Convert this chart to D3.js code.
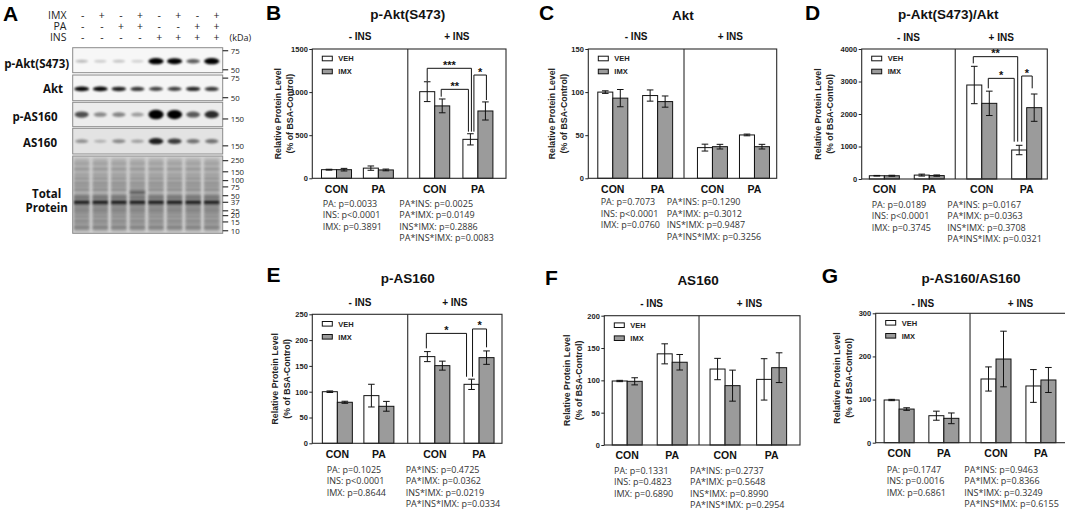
<!DOCTYPE html>
<html lang="en">
<head>
<meta charset="UTF-8">
<title>p-Akt / p-AS160 western blot and quantification</title>
<script src="https://d3js.org/d3.v7.min.js"></script>
<style>
    body { margin: 0; background: #fff; }
    svg { display: block; }
    .arial { font-family: "Liberation Sans", Arial, sans-serif; }
    .segoe { font-family: "Open Sans", sans-serif; }
</style>
</head>
<body>
<div id="fig"></div>
<script>
// ---------- panel A: blot data ----------
const imxSigns = ["-", "+", "-", "+", "-", "+", "-", "+"];
const paSigns  = ["-", "-", "+", "+", "-", "-", "+", "+"];
const insSigns = ["-", "-", "-", "-", "+", "+", "+", "+"];
const signRows = ["IMX", "PA", "INS"];

// band darkness per lane (0..1)
const pAktBands   = [0.14, 0.07, 0.1, 0.05, 0.95, 0.92, 0.5, 0.97];
const aktBands    = [0.85, 0.85, 0.75, 0.65, 0.6, 0.62, 0.72, 0.65];
const pAs160Bands = [0.55, 0.3, 0.32, 0.22, 1.0, 0.95, 0.5, 0.7];
const as160Bands  = [0.25, 0.12, 0.28, 0.18, 0.75, 0.62, 0.38, 0.38];

const pAktMarkers   = [75, 50];
const aktMarkers    = [75, 50];
const pAs160Markers = [150];
const as160Markers  = [150];
const totalMarkers  = [250, 150, 100, 75, 50, 37, 25, 20, 15, 10];

// total protein stain: band sizes (kDa) and darkness
const totalBandKda   = [220, 170, 130, 110, 90, 78, 66, 50, 45, 37, 32, 28, 25, 22, 19, 16, 14, 12, 11];
const totalBandLevel = [0.14, 0.2, 0.14, 0.22, 0.25, 0.22, 0.28, 0.32, 0.42, 0.95, 0.32, 0.3, 0.32, 0.27, 0.27, 0.3, 0.24, 0.32, 0.22];
const totalExtraLane = [3];
const totalExtraKda  = [58];
const totalExtraLevel = [0.55];

// ---------- panels B-G: bar data [VEH, IMX] per group ----------
const groups = ["CON", "PA", "CON", "PA"];
const seriesNames = ["VEH", "IMX"];
const insLabels = ["- INS", "+ INS"];

const pAktMean = [[100, 100], [118, 97], [1005, 840], [452, 781]];
const pAktErr  = [[5, 15], [25, 10], [115, 80], [65, 105]];
const pAktTicks = [0, 500, 1000, 1500];
const pAktMainP = ["PA: p=0.0033", "INS: p<0.0001", "IMX: p=0.3891"];
const pAktIntP  = ["PA*INS: p=0.0025", "PA*IMX: p=0.0149", "INS*IMX: p=0.2886", "PA*INS*IMX: p=0.0083"];
const pAktSig = [
    { a: [2, 0], b: [3, 0], y: 1276, aEnd: 1129, bEnd: 541, label: "***", dx: [0, 1] },
    { a: [2, 1], b: [3, 0], y: 1032, aEnd: 947, bEnd: 541, label: "**", dx: [-1, -2] },
    { a: [3, 0], b: [3, 1], y: 1198, aEnd: 541, bEnd: 908, label: "*", dx: [3.5, 1] }
];

const aktMean = [[100, 93], [96, 89], [35.6, 36.7], [50.3, 36.7]];
const aktErr  = [[1.5, 10], [6.5, 6.5], [4, 2.7], [1, 2.7]];
const aktTicks = [0, 50, 100, 150];
const aktMainP = ["PA: p=0.7073", "INS: p<0.0001", "IMX: p=0.0760"];
const aktIntP  = ["PA*INS: p=0.1290", "PA*IMX: p=0.3012", "INS*IMX: p=0.9487", "PA*INS*IMX: p=0.3256"];

const aktRatioMean = [[100, 100], [120, 105], [2892, 2328], [892, 2195]];
const aktRatioErr  = [[10, 15], [30, 20], [575, 375], [145, 420]];
const aktRatioTicks = [0, 1000, 2000, 3000, 4000];
const aktRatioMainP = ["PA: p=0.0189", "INS: p<0.0001", "IMX: p=0.3745"];
const aktRatioIntP  = ["PA*INS: p=0.0167", "PA*IMX: p=0.0363", "INS*IMX: p=0.3708", "PA*INS*IMX: p=0.0321"];
const aktRatioSig = [
    { a: [2, 0], b: [3, 0], y: 3764, aEnd: 3559, bEnd: 1149, label: "**", dx: [-1, -1.5] },
    { a: [2, 1], b: [3, 0], y: 3097, aEnd: 2790, bEnd: 1149, label: "*", dx: [-1, -5] },
    { a: [3, 0], b: [3, 1], y: 3169, aEnd: 1149, bEnd: 2790, label: "*", dx: [2.5, -2] }
];

const pAs160Mean = [[100, 79.5], [92.4, 71.7], [168, 150.5], [114.3, 166]];
const pAs160Err  = [[1.5, 2], [22, 9.5], [9.7, 8.7], [10, 13]];
const pAs160Ticks = [0, 50, 100, 150, 200, 250];
const pAs160MainP = ["PA: p=0.1025", "INS: p<0.0001", "IMX: p=0.8644"];
const pAs160IntP  = ["PA*INS: p=0.4725", "PA*IMX: p=0.0362", "INS*IMX: p=0.0219", "PA*INS*IMX: p=0.0334"];
const pAs160Sig = [
    { a: [2, 0], b: [3, 0], y: 213, aEnd: 184, bEnd: 129, label: "*", dx: [-1, -5] },
    { a: [3, 0], b: [3, 1], y: 221.6, aEnd: 129, bEnd: 186, label: "*", dx: [1, 0] }
];

const as160Mean = [[99, 98.5], [141, 128], [117.5, 91.8], [101.5, 119.6]];
const as160Err  = [[1, 5.5], [15.5, 12], [16.5, 24], [32, 23]];
const as160Ticks = [0, 50, 100, 150, 200];
const as160MainP = ["PA: p=0.1331", "INS: p=0.4823", "IMX: p=0.6890"];
const as160IntP  = ["PA*INS: p=0.2737", "PA*IMX: p=0.5648", "INS*IMX: p=0.8990", "PA*INS*IMX: p=0.2954"];

const as160RatioMean = [[99, 78], [62.6, 56.5], [147.7, 194], [131.5, 145.4]];
const as160RatioErr  = [[1.5, 3], [10.5, 12.4], [28, 64.5], [38, 29]];
const as160RatioTicks = [0, 100, 200, 300];
const as160RatioMainP = ["PA: p=0.1747", "INS: p=0.0016", "IMX: p=0.6861"];
const as160RatioIntP  = ["PA*INS: p=0.9463", "PA*IMX: p=0.8366", "INS*IMX: p=0.3249", "PA*INS*IMX: p=0.6155"];

// ---------- layout ----------
const seriesFill = ["#ffffff", "#9b9b9b"];
const barW = 15;
const lineH = 11.5;

const panels = [
    { letter: "B", title: "p-Akt(S473)", mean: pAktMean, err: pAktErr, yMax: 1500, ticks: pAktTicks,
      mainP: pAktMainP, intP: pAktIntP, sig: pAktSig,
      L: 312.3, R: 506, T: 49, B: 178.3, groupAt: [0.125, 0.341, 0.632, 0.855], divAt: 0.493,
      letterXY: [266, 20], titleY: 19, titleDx: 0, insY: 40, statX: [322.7, 399.3], statY: 206.5, ylab: 34 },
    { letter: "C", title: "Akt", mean: aktMean, err: aktErr, yMax: 150, ticks: aktTicks,
      mainP: aktMainP, intP: aktIntP, sig: [],
      L: 588.3, R: 776.7, T: 49, B: 178.3, groupAt: [0.130, 0.368, 0.659, 0.882], divAt: 0.508,
      letterXY: [539, 20], titleY: 19.5, titleDx: -1, insY: 40, statX: [600.7, 666.7], statY: 205, ylab: 36.6 },
    { letter: "D", title: "p-Akt(S473)/Akt", mean: aktRatioMean, err: aktRatioErr, yMax: 4000, ticks: aktRatioTicks,
      mainP: aktRatioMainP, intP: aktRatioIntP, sig: aktRatioSig,
      L: 861.7, R: 1047.3, T: 49, B: 179, groupAt: [0.122, 0.364, 0.647, 0.889], divAt: 0.504,
      letterXY: [805, 20], titleY: 19, titleDx: -7, insY: 40.5, statX: [871.7, 947.3], statY: 207.5, ylab: 43.7 },
    { letter: "E", title: "p-AS160", mean: pAs160Mean, err: pAs160Err, yMax: 250, ticks: pAs160Ticks,
      mainP: pAs160MainP, intP: pAs160IntP, sig: pAs160Sig,
      L: 312.3, R: 502, T: 314.3, B: 443.3, groupAt: [0.132, 0.351, 0.646, 0.879], divAt: 0.503,
      letterXY: [266.5, 282], titleY: 283, titleDx: 0, insY: 305.7, statX: [326.7, 405.7], statY: 472.5, ylab: 37 },
    { letter: "F", title: "AS160", mean: as160Mean, err: as160Err, yMax: 200, ticks: as160Ticks,
      mainP: as160MainP, intP: as160IntP, sig: [],
      L: 604.3, R: 800, T: 315.7, B: 445, groupAt: [0.117, 0.347, 0.617, 0.855], divAt: 0.484,
      letterXY: [545, 285], titleY: 285, titleDx: -1, insY: 307, statX: [614, 690], statY: 473.5, ylab: 37.6 },
    { letter: "G", title: "p-AS160/AS160", mean: as160RatioMean, err: as160RatioErr, yMax: 300, ticks: as160RatioTicks,
      mainP: as160RatioMainP, intP: as160RatioIntP, sig: [],
      L: 875.7, R: 1071, T: 313.3, B: 442.7, groupAt: [0.120, 0.349, 0.616, 0.846], divAt: 0.483,
      letterXY: [821.7, 282.5], titleY: 283, titleDx: 1, insY: 306.5, statX: [886.7, 964.3], statY: 472.5, ylab: 39 }
];

const svg = d3.select("#fig").append("svg")
    .attr("width", 1065)
    .attr("height", 510);

const defs = svg.append("defs");
defs.append("filter").attr("id", "blur")
    .attr("x", "-30%").attr("y", "-100%").attr("width", "160%").attr("height", "300%")
    .append("feGaussianBlur").attr("stdDeviation", 1.1);
defs.append("filter").attr("id", "blurLane")
    .attr("x", "-30%").attr("y", "-5%").attr("width", "160%").attr("height", "110%")
    .append("feGaussianBlur").attr("stdDeviation", 1.5);

// ================= panel A =================
const blotL = 72.7, blotR = 222.7;
const lane = d3.scaleBand().domain(d3.range(8)).range([72.4, 221]);
const signX = d3.scaleBand().domain(d3.range(8)).range([73.2, 226]);

const blotRows = [
    { name: ["p-Akt(S473)"], bands: pAktBands, kda: 60, markers: pAktMarkers, top: 47.7, bottom: 72.7,
      kdaRange: [80, 47], bg: "#f7f7f7", thick: 2.0, labelX: 36.7, labelY: [67.5] },
    { name: ["Akt"], bands: aktBands, kda: 60, markers: aktMarkers, top: 75, bottom: 100.7,
      kdaRange: [80, 47], bg: "#f5f5f5", thick: 1.4, labelX: 53, labelY: [92.5] },
    { name: ["p-AS160"], bands: pAs160Bands, kda: 156, markers: pAs160Markers, top: 102.3, bottom: 126.7,
      kdaRange: [174, 140], bg: "#ececec", thick: 3.6, labelX: 35, labelY: [121] },
    { name: ["AS160"], bands: as160Bands, kda: 156, markers: as160Markers, top: 128.3, bottom: 154,
      kdaRange: [174, 140], bg: "#e3e3e3", thick: 2.6, labelX: 40, labelY: [147] }
];

const gA = svg.append("g");
gA.append("text").attr("class", "arial").attr("x", 3).attr("y", 20.5)
    .attr("font-size", 21).attr("font-weight", "bold").text("A");

// treatment table
[imxSigns, paSigns, insSigns].forEach((row, ri) => {
    const yy = [18.5, 29.8, 41][ri];
    gA.append("text").attr("class", "segoe").attr("x", 66.5).attr("y", yy)
        .attr("text-anchor", "end").attr("font-size", 10.5).attr("fill", "#222")
        .text(signRows[ri]);
    gA.selectAll(null).data(row).join("text")
        .attr("class", "segoe")
        .attr("x", (d, i) => signX(i) + signX.bandwidth() / 2)
        .attr("y", yy)
        .attr("text-anchor", "middle").attr("font-size", 10.5).attr("fill", "#222")
        .text(d => d);
});
gA.append("text").attr("class", "segoe").attr("x", 229.5).attr("y", 41)
    .attr("font-size", 9).attr("fill", "#222").text("(kDa)");

function markerTicks(g, scale, marks) {
    g.selectAll(null).data(marks).join("line")
        .attr("x1", blotR).attr("x2", blotR + 5.5)
        .attr("y1", d => scale(d)).attr("y2", d => scale(d))
        .attr("stroke", "#222").attr("stroke-width", 1.1);
    g.selectAll(null).data(marks).join("text")
        .attr("class", "segoe")
        .attr("x", blotR + 8).attr("y", d => scale(d) + 2.8)
        .attr("font-size", 7.8).attr("fill", "#222")
        .text(d => d);
}

blotRows.forEach((row, ri) => {
    const g = gA.append("g");
    const ky = d3.scaleLog().domain(row.kdaRange).range([row.top, row.bottom]);
    defs.append("clipPath").attr("id", "clipBlot" + ri)
        .append("rect").attr("x", blotL).attr("y", row.top)
        .attr("width", blotR - blotL).attr("height", row.bottom - row.top);
    g.append("rect").attr("x", blotL).attr("y", row.top)
        .attr("width", blotR - blotL).attr("height", row.bottom - row.top)
        .attr("fill", row.bg);
    g.append("g").attr("clip-path", `url(#clipBlot${ri})`)
        .selectAll("ellipse").data(row.bands).join("ellipse")
        .attr("cx", (d, i) => lane(i) + lane.bandwidth() / 2)
        .attr("cy", ky(row.kda))
        .attr("rx", d => 6.2 + 1.4 * d)
        .attr("ry", d => 1.2 + row.thick * d)
        .attr("fill", "#000")
        .attr("opacity", d => Math.min(1, 0.12 + d))
        .attr("filter", "url(#blur)");
    g.append("rect").attr("x", blotL).attr("y", row.top)
        .attr("width", blotR - blotL).attr("height", row.bottom - row.top)
        .attr("fill", "none").attr("stroke", "#8a8a8a").attr("stroke-width", 1);
    markerTicks(g, ky, row.markers);
    row.name.forEach((nm, k) => {
        g.append("text").attr("class", "segoe")
            .attr("x", row.labelX).attr("y", row.labelY[k])
            .attr("text-anchor", "middle").attr("font-size", 11.5).attr("font-weight", "bold")
            .attr("fill", "#111").text(nm);
    });
});

// total protein
(function () {
    const top = 156, bottom = 233.3;
    const g = gA.append("g");
    const ky = d3.scaleLog().domain([310, 8.9]).range([top, bottom]);
    defs.append("clipPath").attr("id", "clipTotal")
        .append("rect").attr("x", blotL).attr("y", top)
        .attr("width", blotR - blotL).attr("height", bottom - top);
    g.append("rect").attr("x", blotL).attr("y", top)
        .attr("width", blotR - blotL).attr("height", bottom - top).attr("fill", "#d3d3d3");
    const inner = g.append("g").attr("clip-path", "url(#clipTotal)");
    inner.selectAll("rect.lane").data(d3.range(8)).join("rect")
        .attr("x", i => lane(i) + 1.5).attr("width", lane.bandwidth() - 3)
        .attr("y", ky(280)).attr("height", ky(9.5) - ky(280))
        .attr("fill", "#afafaf").attr("filter", "url(#blurLane)");
    const cells = d3.range(8).flatMap(i => totalBandKda.map((k, j) => ({ i, k, v: totalBandLevel[j] })));
    totalExtraLane.forEach((l, j) => cells.push({ i: l, k: totalExtraKda[j], v: totalExtraLevel[j] }));
    inner.selectAll("rect.band").data(cells).join("rect")
        .attr("x", d => lane(d.i) + 1.5).attr("width", lane.bandwidth() - 3)
        .attr("y", d => ky(d.k) - (0.7 + d.v * 1.3)).attr("height", d => 1.4 + d.v * 2.6)
        .attr("fill", "#000").attr("opacity", d => d.v * 0.85)
        .attr("filter", "url(#blur)");
    g.append("rect").attr("x", blotL).attr("y", top)
        .attr("width", blotR - blotL).attr("height", bottom - top)
        .attr("fill", "none").attr("stroke", "#8a8a8a");
    markerTicks(g, ky, totalMarkers);
    ["Total", "Protein"].forEach((nm, k) => {
        g.append("text").attr("class", "segoe")
            .attr("x", 46.7).attr("y", [197.5, 212][k])
            .attr("text-anchor", "middle").attr("font-size", 11.5).attr("font-weight", "bold")
            .attr("fill", "#111").text(nm);
    });
})();

// ================= bar panels =================
function drawPanel(p) {
    const g = svg.append("g").attr("class", "arial");
    const x = d3.scaleLinear().domain([0, 1]).range([p.L, p.R]);
    const y = d3.scaleLinear().domain([0, p.yMax]).range([p.B, p.T]);
    const barX = (gi, si) => x(p.groupAt[gi]) + (si === 0 ? -barW : 0);
    const barC = (gi, si) => barX(gi, si) + barW / 2;

    const cells = p.mean.flatMap((pair, gi) =>
        pair.map((v, si) => ({ gi, si, v, e: p.err[gi][si] })));

    // bars
    g.selectAll("rect.bar").data(cells).join("rect")
        .attr("class", "bar")
        .attr("x", d => barX(d.gi, d.si))
        .attr("y", d => y(d.v))
        .attr("width", barW)
        .attr("height", d => y(0) - y(d.v))
        .attr("fill", d => seriesFill[d.si])
        .attr("stroke", "#111").attr("stroke-width", 1);

    // error bars
    const eb = g.selectAll("g.err").data(cells).join("g").attr("class", "err")
        .attr("stroke", "#111").attr("stroke-width", 1);
    eb.append("line")
        .attr("x1", d => barC(d.gi, d.si)).attr("x2", d => barC(d.gi, d.si))
        .attr("y1", d => y(d.v + d.e)).attr("y2", d => y(Math.max(0, d.v - d.e)));
    eb.append("line")
        .attr("x1", d => barC(d.gi, d.si) - 3.3).attr("x2", d => barC(d.gi, d.si) + 3.3)
        .attr("y1", d => y(d.v + d.e)).attr("y2", d => y(d.v + d.e));
    eb.append("line")
        .attr("x1", d => barC(d.gi, d.si) - 3.3).attr("x2", d => barC(d.gi, d.si) + 3.3)
        .attr("y1", d => y(d.v - d.e)).attr("y2", d => y(d.v - d.e));

    // frame and divider
    g.append("rect").attr("x", p.L).attr("y", p.T)
        .attr("width", p.R - p.L).attr("height", p.B - p.T)
        .attr("fill", "none").attr("stroke", "#2a2a2a").attr("stroke-width", 1.1);
    g.append("line").attr("x1", x(p.divAt)).attr("x2", x(p.divAt))
        .attr("y1", p.T).attr("y2", p.B)
        .attr("stroke", "#2a2a2a").attr("stroke-width", 1.1);

    // y axis
    const ax = g.append("g").attr("transform", `translate(${p.L},0)`)
        .call(d3.axisLeft(y).tickValues(p.ticks).tickSize(3).tickPadding(1.5).tickFormat(d3.format("d")));
    ax.select(".domain").remove();
    ax.selectAll("line").attr("stroke", "#222");
    ax.selectAll("text").attr("font-family", "Liberation Sans, Arial, sans-serif")
        .attr("font-size", 7.5).attr("font-weight", "bold").attr("fill", "#222");

    // y label
    const cy = (p.T + p.B) / 2;
    ["Relative Protein Level", "(% of BSA-Control)"].forEach((t, k) => {
        g.append("text")
            .attr("transform", `translate(${p.L - p.ylab + k * 11.8},${cy}) rotate(-90)`)
            .attr("text-anchor", "middle").attr("dy", "0.35em")
            .attr("font-size", 8.8).attr("font-weight", "bold").attr("fill", "#222")
            .text(t);
    });

    // legend
    seriesNames.forEach((s, si) => {
        const ly = p.T + 9.5 + si * 13;
        g.append("rect").attr("x", p.L + 10).attr("y", ly - 2.3)
            .attr("width", 10).attr("height", 4.6)
            .attr("fill", seriesFill[si]).attr("stroke", "#111");
        g.append("text").attr("x", p.L + 26).attr("y", ly + 2.7)
            .attr("font-size", 7.5).attr("font-weight", "bold").attr("fill", "#222").text(s);
    });

    // category labels
    g.selectAll("text.cat").data(groups).join("text")
        .attr("class", "cat")
        .attr("x", (d, i) => x(p.groupAt[i]))
        .attr("y", p.B + 14.2)
        .attr("text-anchor", "middle")
        .attr("font-size", 10.5).attr("font-weight", "bold").attr("fill", "#111")
        .text(d => d);

    // insulin headers
    const halves = [(p.L + x(p.divAt)) / 2, (x(p.divAt) + p.R) / 2];
    insLabels.forEach((t, k) => {
        g.append("text").attr("x", halves[k]).attr("y", p.insY)
            .attr("text-anchor", "middle").attr("font-size", 10)
            .attr("font-weight", "bold").attr("fill", "#111").text(t);
    });

    // title and letter
    g.append("text").attr("x", x(p.divAt) + p.titleDx).attr("y", p.titleY)
        .attr("text-anchor", "middle").attr("font-size", 13.5)
        .attr("font-weight", "bold").attr("fill", "#111").text(p.title);
    g.append("text").attr("x", p.letterXY[0]).attr("y", p.letterXY[1])
        .attr("font-size", 21).attr("font-weight", "bold").attr("fill", "#000").text(p.letter);

    // significance brackets
    p.sig.forEach(s => {
        const xa = barC(s.a[0], s.a[1]) + s.dx[0];
        const xb = barC(s.b[0], s.b[1]) + s.dx[1];
        const path = d3.path();
        path.moveTo(xa, y(s.aEnd));
        path.lineTo(xa, y(s.y));
        path.lineTo(xb, y(s.y));
        path.lineTo(xb, y(s.bEnd));
        g.append("path").attr("d", path.toString())
            .attr("fill", "none").attr("stroke", "#111").attr("stroke-width", 1);
        g.append("text").attr("x", (xa + xb) / 2).attr("y", y(s.y) + 0.5)
            .attr("text-anchor", "middle").attr("font-size", 11)
            .attr("font-weight", "bold").attr("fill", "#111").text(s.label);
    });

    // two-way ANOVA p-values
    [p.mainP, p.intP].forEach((col, c) => {
        g.selectAll(null).data(col).join("text")
            .attr("class", "segoe")
            .attr("font-family", "Open Sans, sans-serif")
            .attr("x", p.statX[c])
            .attr("y", (d, i) => p.statY + i * lineH)
            .attr("font-size", 9).attr("fill", "#333")
            .text(d => d);
    });
}

panels.forEach(drawPanel);
</script>
</body>
</html>
